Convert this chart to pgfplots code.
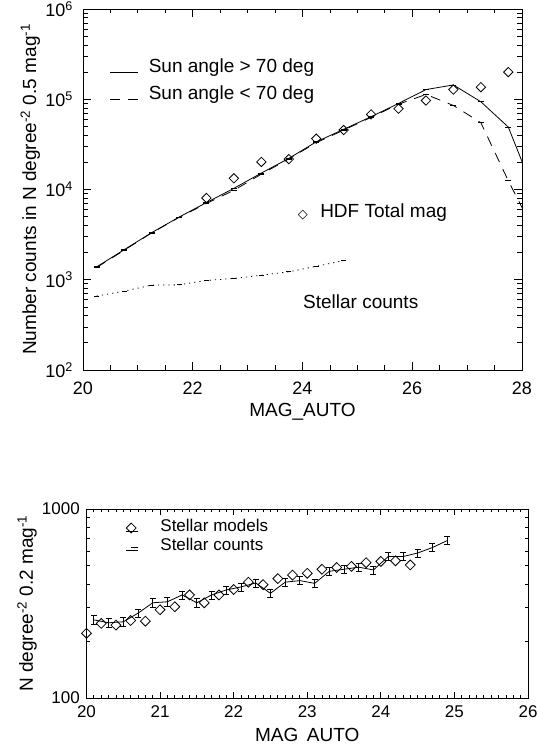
\documentclass[border=0pt]{standalone}
\usepackage{fontspec}
\setmainfont{Liberation Sans}
\newfontfamily\djv{DejaVu Sans}
\usepackage{pgfplots}
\pgfplotsset{compat=1.18}
\pgfplotsset{
 diamleg/.style={legend image code/.code={\path (0pt,0pt) -- (12pt,0pt); \draw[##1] plot coordinates {(5pt,3pt)};}},
 dashleg/.style={legend image code/.code={\path (0pt,0pt) -- (12pt,0pt); \draw[black, line width=0.8pt] (4.5pt,3pt) -- (11.5pt,3pt);}},
 lineleg/.style={legend image code/.code={\draw[##1, line width=0.8pt] (0pt,1pt) -- (28pt,1pt);}},
}
\begin{document}
\begin{tikzpicture}
\path[use as bounding box] (0,0) rectangle (537pt,746pt);
\pgfplotsset{
 mystyle/.style={
  scale only axis,
  axis line style={line width=0.8pt},
  every tick/.style={black, line width=0.8pt},
  label style={font=\fontsize{19}{22}\selectfont},
  clip mode=global,
 }
}
% ---------------- top panel ----------------
\begin{axis}[mystyle,
 at={(83pt,376pt)}, anchor=south west, width=439pt, height=361pt,
 xmin=20, xmax=28, ymin=100, ymax=1e6, ymode=log,
 tick label style={font=\fontsize{18}{21}\selectfont},
 xticklabel style={anchor=base, yshift=-25pt},
 xtick={20,22,24,26,28}, xticklabels={20,22,24,26,28}, minor x tick num=3,
 ytick={1e2,1e3,1e4,1e5,1e6},
 yticklabels={10\textsuperscript{2},10\textsuperscript{3},10\textsuperscript{4},10\textsuperscript{5},10\textsuperscript{6}},
 minor ytick={200,300,400,500,600,700,800,900,2000,3000,4000,5000,6000,7000,8000,9000,20000,30000,40000,50000,60000,70000,80000,90000,200000,300000,400000,500000,600000,700000,800000,900000},
 yticklabel style={anchor=east, inner sep=0pt, xshift=-10pt},
 major tick length=8pt, minor tick length=4.5pt,
 xlabel={MAG\_AUTO},
 ylabel={Number counts in N degree\textsuperscript{-2} 0.5 mag\textsuperscript{-1}},
 xlabel style={at={(axis description cs:0.5,-0.1294)}, anchor=base},
 ylabel style={at={(axis description cs:-0.107,0.5)}, anchor=base},
 legend style={at={(axis description cs:0.0615,0.8587)}, anchor=north west,
   draw=none, fill=none, inner sep=0pt, outer sep=0pt,
   font=\fontsize{19}{22}\selectfont, row sep=10pt, column sep=10pt,
   nodes={inner sep=0pt, text height=13pt, text depth=4pt},
   cells={anchor=base west}},
 lineleg,
]
\addplot[black, line width=0.8pt, mark=-, mark size=3pt, mark options={solid}] coordinates {
(20.25,1390) (20.75,2150) (21.25,3320) (21.75,4940) (22.25,7160) (22.75,10300)
(23.25,15200) (23.75,22100) (24.25,33700) (24.75,46400) (25.25,64000) (25.75,89800)
(26.25,128000) (26.75,144000) (27.25,93800) (27.75,49200) (28.25,8500)};
\addlegendentry{Sun angle > 70 deg}
\addplot[black, line width=0.8pt, dash pattern=on 10pt off 8pt, mark=-, mark size=3pt, mark options={solid}] coordinates {
(20.25,1370) (20.75,2120) (21.25,3300) (21.75,4900) (22.25,7000) (22.75,9800)
(23.25,14800) (23.75,21800) (24.25,33000) (24.75,45500) (25.25,63000) (25.75,88000)
(26.25,113000) (26.75,85300) (27.25,55000) (27.75,12500) (28.25,3200)};
\addlegendentry{Sun angle < 70 deg}
\addplot[black, only marks, mark=square, mark size=3.3pt, mark options={rotate=45, line width=0.8pt}, forget plot] coordinates {
(22.25,8050) (22.75,13300) (23.25,20200) (23.75,21700) (24.25,36600) (24.75,45600)
(25.25,67900) (25.75,78500) (26.25,96800) (26.75,128000) (27.25,136000) (27.75,200000)};
\addplot[black, line width=0.8pt, dash pattern=on 1.2pt off 4pt, mark=-, mark size=2.5pt, mark options={solid}, forget plot] coordinates {
(20.25,659) (20.75,748) (21.25,871) (21.75,879) (22.25,982) (22.75,1033)
(23.25,1122) (23.75,1224) (24.25,1409) (24.75,1630)};
\node[inner sep=0pt] at (axis description cs:0.501,0.4294) {\djv\fontsize{13}{15}\selectfont ◇};
\node[anchor=base west, inner sep=0pt, font=\fontsize{19}{22}\selectfont] at (axis description cs:0.540,0.4211) {HDF Total mag};
\node[anchor=base west, inner sep=0pt, font=\fontsize{19}{22}\selectfont] at (axis description cs:0.5011,0.1717) {Stellar counts};
\end{axis}
% ---------------- bottom panel ----------------
\begin{axis}[mystyle,
 at={(86.5pt,48pt)}, anchor=south west, width=441.5pt, height=189pt,
 xmin=20, xmax=26, ymin=100, ymax=1000, ymode=log,
 tick label style={font=\fontsize{17}{20}\selectfont},
 xticklabel style={anchor=base, yshift=-20pt},
 xtick={20,21,22,23,24,25,26}, xticklabels={20,21,22,23,24,25,26}, minor x tick num=9,
 ytick={100,1000}, yticklabels={100,1000},
 minor ytick={200,300,400,500,600,700,800,900},
 yticklabel style={anchor=east, inner sep=0pt, xshift=-6.5pt},
 major tick length=6pt, minor tick length=3.5pt,
 xlabel={MAG\hspace{0.45em}AUTO},
 ylabel={N degree\textsuperscript{-2} 0.2 mag\textsuperscript{-1}},
 xlabel style={at={(axis description cs:0.5,-0.2328)}, anchor=base},
 ylabel style={at={(axis description cs:-0.1212,0.5)}, anchor=base},
 legend style={at={(axis description cs:0.0895,0.947)}, anchor=north west,
   draw=none, fill=none, inner sep=0pt, outer sep=0pt,
   font=\fontsize{17}{20}\selectfont, row sep=4pt, column sep=22pt,
   nodes={inner sep=0pt, text height=12pt, text depth=3pt},
   cells={anchor=base west}},
]
\addplot[black, only marks, mark=square, mark size=3.5pt, mark options={rotate=45, line width=0.8pt}, diamleg] coordinates {
(20.0,220) (20.2,248) (20.4,243) (20.6,257) (20.8,255) (21.0,293) (21.2,304) (21.4,351)
(21.6,319) (21.8,351) (22.0,375) (22.2,410) (22.4,398) (22.6,428) (22.8,447) (23.0,457)
(23.2,480) (23.4,490) (23.6,497) (23.8,520) (24.0,528) (24.2,532) (24.4,506)};
\addlegendentry{Stellar models}
\addplot[black, line width=0.8pt, mark=none, forget plot,
 error bars/.cd, y dir=both, y fixed relative=0.05,
 error mark options={rotate=90, mark size=3pt, line width=0.8pt},
 error bar style={line width=0.8pt}]
 coordinates {
(20.1,259) (20.3,250) (20.5,253) (20.7,281) (20.9,319) (21.1,323) (21.3,351) (21.5,319)
(21.7,351) (21.9,373) (22.1,387) (22.3,406) (22.5,358) (22.7,410) (22.9,418) (23.1,404)
(23.3,468) (23.5,480) (23.7,492) (23.9,476) (24.1,560) (24.3,560) (24.5,585) (24.7,625)
(24.9,680)};
\addlegendimage{dashleg}
\addlegendentry{Stellar counts}
\end{axis}
\end{tikzpicture}
\end{document}
